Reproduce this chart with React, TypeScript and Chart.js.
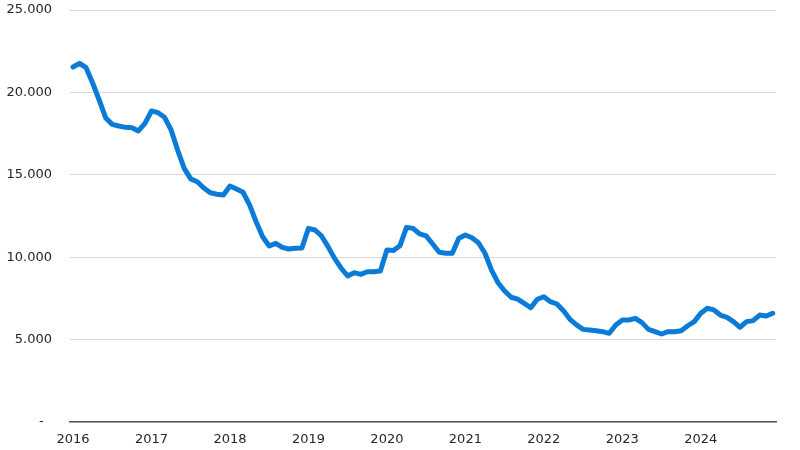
import React, { useEffect, useRef } from "react";
import { Chart, registerables } from "chart.js";

Chart.register(...registerables);

const years = [2016, 2017, 2018, 2019, 2020, 2021, 2022, 2023, 2024];

const values2016 = [21540, 21760, 21500, 20570, 19540, 18450, 18060, 17960, 17880, 17860, 17660, 18120];
const values2017 = [18870, 18770, 18490, 17720, 16500, 15390, 14750, 14580, 14200, 13910, 13820, 13770];
const values2018 = [14320, 14140, 13940, 13170, 12150, 11240, 10680, 10840, 10600, 10500, 10540, 10560];
const values2019 = [11750, 11650, 11290, 10640, 9930, 9330, 8860, 9060, 8960, 9120, 9120, 9160];
const values2020 = [10440, 10400, 10700, 11810, 11750, 11410, 11290, 10800, 10300, 10240, 10240, 11150];
const values2021 = [11350, 11180, 10880, 10240, 9220, 8450, 7950, 7570, 7450, 7200, 6940, 7450];
const values2022 = [7600, 7300, 7160, 6750, 6230, 5890, 5620, 5580, 5540, 5480, 5380, 5890];
const values2023 = [6190, 6190, 6290, 6030, 5620, 5480, 5340, 5480, 5480, 5540, 5840, 6090];
const values2024 = [6600, 6900, 6800, 6490, 6350, 6090, 5750, 6090, 6150, 6490, 6430, 6600];

const values = [
  ...values2016, ...values2017, ...values2018, ...values2019, ...values2020,
  ...values2021, ...values2022, ...values2023, ...values2024,
];

const yTicks = [0, 5000, 10000, 15000, 20000, 25000];

const fmt = (v: number) => (v === 0 ? "-  " : v.toLocaleString("de-DE"));

export default function App() {
  const ref = useRef<HTMLCanvasElement | null>(null);
  useEffect(() => {
    if (!ref.current) return;
    const font = { family: "DejaVu Sans", size: 13 };
    const points = values.map((v, i) => ({ x: i, y: v }));
    const chart = new Chart(ref.current, {
      type: "line",
      data: {
        datasets: [
          {
            data: points,
            borderColor: "#0a7bd6",
            borderWidth: 5,
            pointRadius: 0,
            tension: 0,
            borderJoinStyle: "round",
            borderCapStyle: "round",
          },
        ],
      },
      options: {
        animation: false,
        responsive: false,
        maintainAspectRatio: false,
        layout: { padding: { top: 10, right: 24, left: 0, bottom: 0 } },
        plugins: { legend: { display: false }, tooltip: { enabled: false } },
        scales: {
          x: {
            type: "linear",
            min: -0.46,
            max: values.length - 1 + 0.5,
            grid: { display: false, drawTicks: false },
            border: { display: true, color: "#595959", width: 1.5 },
            afterBuildTicks: (s: any) => {
              s.ticks = years.map((_y, k) => ({ value: k * 12 }));
            },
            ticks: {
              autoSkip: false,
              maxRotation: 0,
              minRotation: 0,
              padding: 10,
              color: "#262626",
              font,
              callback: (v: any) => String(years[Math.round(Number(v) / 12)]),
            },
            afterFit: (s: any) => {
              s.height = 28;
              s.paddingLeft = 0;
              s.paddingRight = 0;
            },
          },
          y: {
            min: 0,
            max: 25000,
            afterBuildTicks: (s: any) => {
              s.ticks = yTicks.map((v) => ({ value: v }));
            },
            grid: { color: "#d9d9d9", lineWidth: 1, drawTicks: false },
            border: { display: false },
            ticks: {
              padding: 18,
              color: "#262626",
              font,
              callback: (v: any) => fmt(Number(v)),
            },
            afterFit: (s: any) => {
              s.width = 70;
              s.paddingTop = 0;
              s.paddingBottom = 0;
            },
          },
        },
      },
    } as any);
    return () => chart.destroy();
  }, []);
  return (
    <div style={{ position: "fixed", left: 0, top: 0, width: 800, height: 450, background: "#fff" }}>
      <canvas ref={ref} width={800} height={450} style={{ width: 800, height: 450 }} />
    </div>
  );
}
